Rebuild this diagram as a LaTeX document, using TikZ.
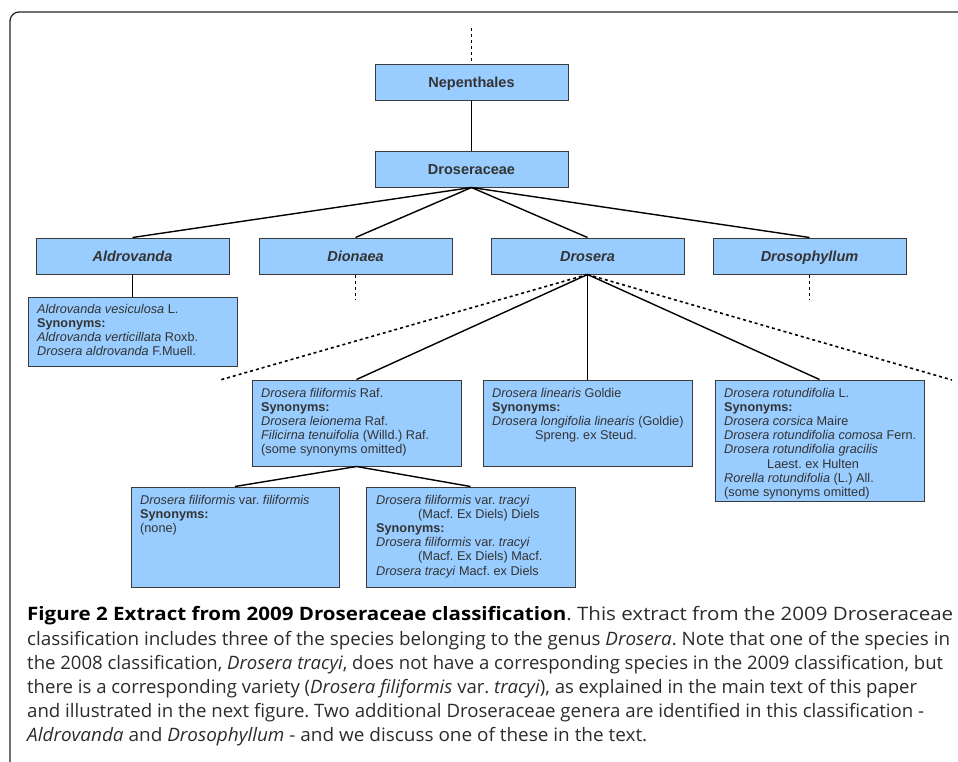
\documentclass[tikz,border=0pt]{standalone}
\usepackage{fontspec}
\usepackage{graphicx}
\setmainfont{Liberation Sans}
\newfontfamily\capfont{Open Sans}
\definecolor{boxblue}{HTML}{99CCFF}
\definecolor{boxline}{HTML}{3A3A3A}
\definecolor{txtgray}{HTML}{333333}
\definecolor{captxt}{HTML}{2B2B2B}
\frenchspacing
\newsavebox\capsbox
\newlength\capslen
\newcommand\fitcap[2]{\sbox\capsbox{#2}\setlength\capslen{\wd\capsbox}%
  \pgfmathsetmacro\capratio{#1/\capslen}%
  \scalebox{\capratio}[1]{\usebox\capsbox}}
\begin{document}
\begin{tikzpicture}[x=1pt,y=-1pt,
  taxbox/.style={draw=boxline,line width=1pt,fill=boxblue,inner sep=0pt,minimum width=193pt,minimum height=36pt,
    text height=13.4pt,text depth=3pt,text=txtgray,font=\fontsize{14.5}{17}\selectfont\bfseries},
  spbox/.style={draw=boxline,line width=1pt,fill=boxblue,inner sep=0pt,minimum width=209pt},
  sptext/.style={anchor=north west,inner sep=0pt,align=left,text=txtgray,font=\fontsize{12.7}{14.2}\selectfont},
  conn/.style={line width=1.4pt,black},
  dots/.style={line width=1.6pt,black,dash pattern=on 3pt off 3pt},
  capline/.style={anchor=base west,inner sep=0pt,text=captxt,font=\capfont\fontsize{18.5}{24}\selectfont}]
\useasboundingbox (0,0) rectangle (958,761);
% frame
\draw[line width=1.3pt,color=black!85,rounded corners=9pt] (10,780) -- (10,12) -- (980,12);
% taxon boxes
\node[taxbox] (nep) at (471.5,82) {Nepenthales};
\node[taxbox] (dros) at (471.5,169) {Droseraceae};
\node[taxbox] (ald) at (132.5,256) {\itshape Aldrovanda};
\node[taxbox] (dio) at (355.5,256) {\itshape Dionaea};
\node[taxbox] (drs) at (587.5,256) {\itshape Drosera};
\node[taxbox] (dph) at (809.5,256) {\itshape Drosophyllum};
% species boxes
\node[spbox,minimum height=69pt] (aves) at (132.5,331.5) {};
\node[spbox,minimum height=86pt] (dfil) at (356.5,423) {};
\node[spbox,minimum height=86pt] (dlin) at (587.5,423) {};
\node[spbox,minimum height=121pt] (drot) at (819.5,440.5) {};
\node[spbox,minimum width=208pt,minimum height=100pt] (dvf) at (235,537) {};
\node[spbox,minimum height=100pt] (dvt) at (470.5,537) {};
% texts
\node[sptext] (tav) at (37,303) {\strut\textit{Aldrovanda vesiculosa} L.\\\textbf{Synonyms:}\\\textit{Aldrovanda verticillata} Roxb.\\\textit{Drosera aldrovanda} F.Muell.};
\node[sptext] (tdf) at (261,387) {\strut\textit{Drosera filiformis} Raf.\\\textbf{Synonyms:}\\\textit{Drosera leionema} Raf.\\\textit{Filicirna tenuifolia} (Willd.) Raf.\\(some synonyms omitted)};
\node[sptext] (tdl) at (492,387) {\strut\textit{Drosera linearis} Goldie\\\textbf{Synonyms:}\\\textit{Drosera longifolia linearis} (Goldie)\\\hspace*{43pt}Spreng. ex Steud.};
\node[sptext] (tdr) at (724,387) {\strut\textit{Drosera rotundifolia} L.\\\textbf{Synonyms:}\\\textit{Drosera corsica} Maire\\\textit{Drosera rotundifolia comosa} Fern.\\\textit{Drosera rotundifolia gracilis}\\\hspace*{43pt}Laest. ex Hulten\\\textit{Rorella rotundifolia} (L.) All.\\(some synonyms omitted)};
\node[sptext] (tvf) at (140,494) {\strut\textit{Drosera filiformis} var. \textit{filiformis}\\\textbf{Synonyms:}\\(none)};
\node[sptext] (tvt) at (376,494) {\strut\textit{Drosera filiformis} var. \textit{tracyi}\\\hspace*{42pt}(Macf. Ex Diels) Diels\\\textbf{Synonyms:}\\\textit{Drosera filiformis} var. \textit{tracyi}\\\hspace*{42pt}(Macf. Ex Diels) Macf.\\\textit{Drosera tracyi} Macf. ex Diels};
% free ends of dotted lines
\coordinate (topend) at (471.5,28);
\coordinate (dioend) at (355.5,300);
\coordinate (dphend) at (809.5,300);
\coordinate (leftend) at (220,380);
\coordinate (rightend) at (952,380);
% connectors
\draw[dots] (topend) -- (nep.north);
\draw[conn] (nep.south) -- (dros.north);
\draw[conn] (dros.south) -- (ald.north);
\draw[conn] (dros.south) -- (dio.north);
\draw[conn] (dros.south) -- (drs.north);
\draw[conn] (dros.south) -- (dph.north);
\draw[dots] (dio.south) -- (dioend);
\draw[dots] (dph.south) -- (dphend);
\draw[conn] (ald.south) -- (aves.north);
\draw[dots] (drs.south) -- (leftend);
\draw[dots] (drs.south) -- (rightend);
\draw[conn] (drs.south) -- (dfil.north);
\draw[conn] (drs.south) -- (dlin.north);
\draw[conn] (drs.south) -- (drot.north);
\draw[conn] (dfil.south) -- (dvf.north);
\draw[conn] (dfil.south) -- (dvt.north);
% caption
\node[capline] (c1) at (27,620) {\fitcap{926}{{\color{black}\textbf{Figure 2 Extract from 2009 Droseraceae classification}}. This extract from the 2009 Droseraceae}};
\node[capline] (c2) at (27,645) {\fitcap{923}{classification includes three of the species belonging to the genus \textit{Drosera}. Note that one of the species in}};
\node[capline] (c3) at (27,669) {\fitcap{916}{the 2008 classification, \textit{Drosera tracyi}, does not have a corresponding species in the 2009 classification, but}};
\node[capline] (c4) at (27,693) {\fitcap{890}{there is a corresponding variety (\textit{Drosera filiformis} var. \textit{tracyi}), as explained in the main text of this paper}};
\node[capline] (c5) at (27,717) {\fitcap{897}{and illustrated in the next figure. Two additional Droseraceae genera are identified in this classification -}};
\node[capline] (c6) at (27,741) {\fitcap{620}{\textit{Aldrovanda} and \textit{Drosophyllum} - and we discuss one of these in the text.}};
\end{tikzpicture}
\end{document}
